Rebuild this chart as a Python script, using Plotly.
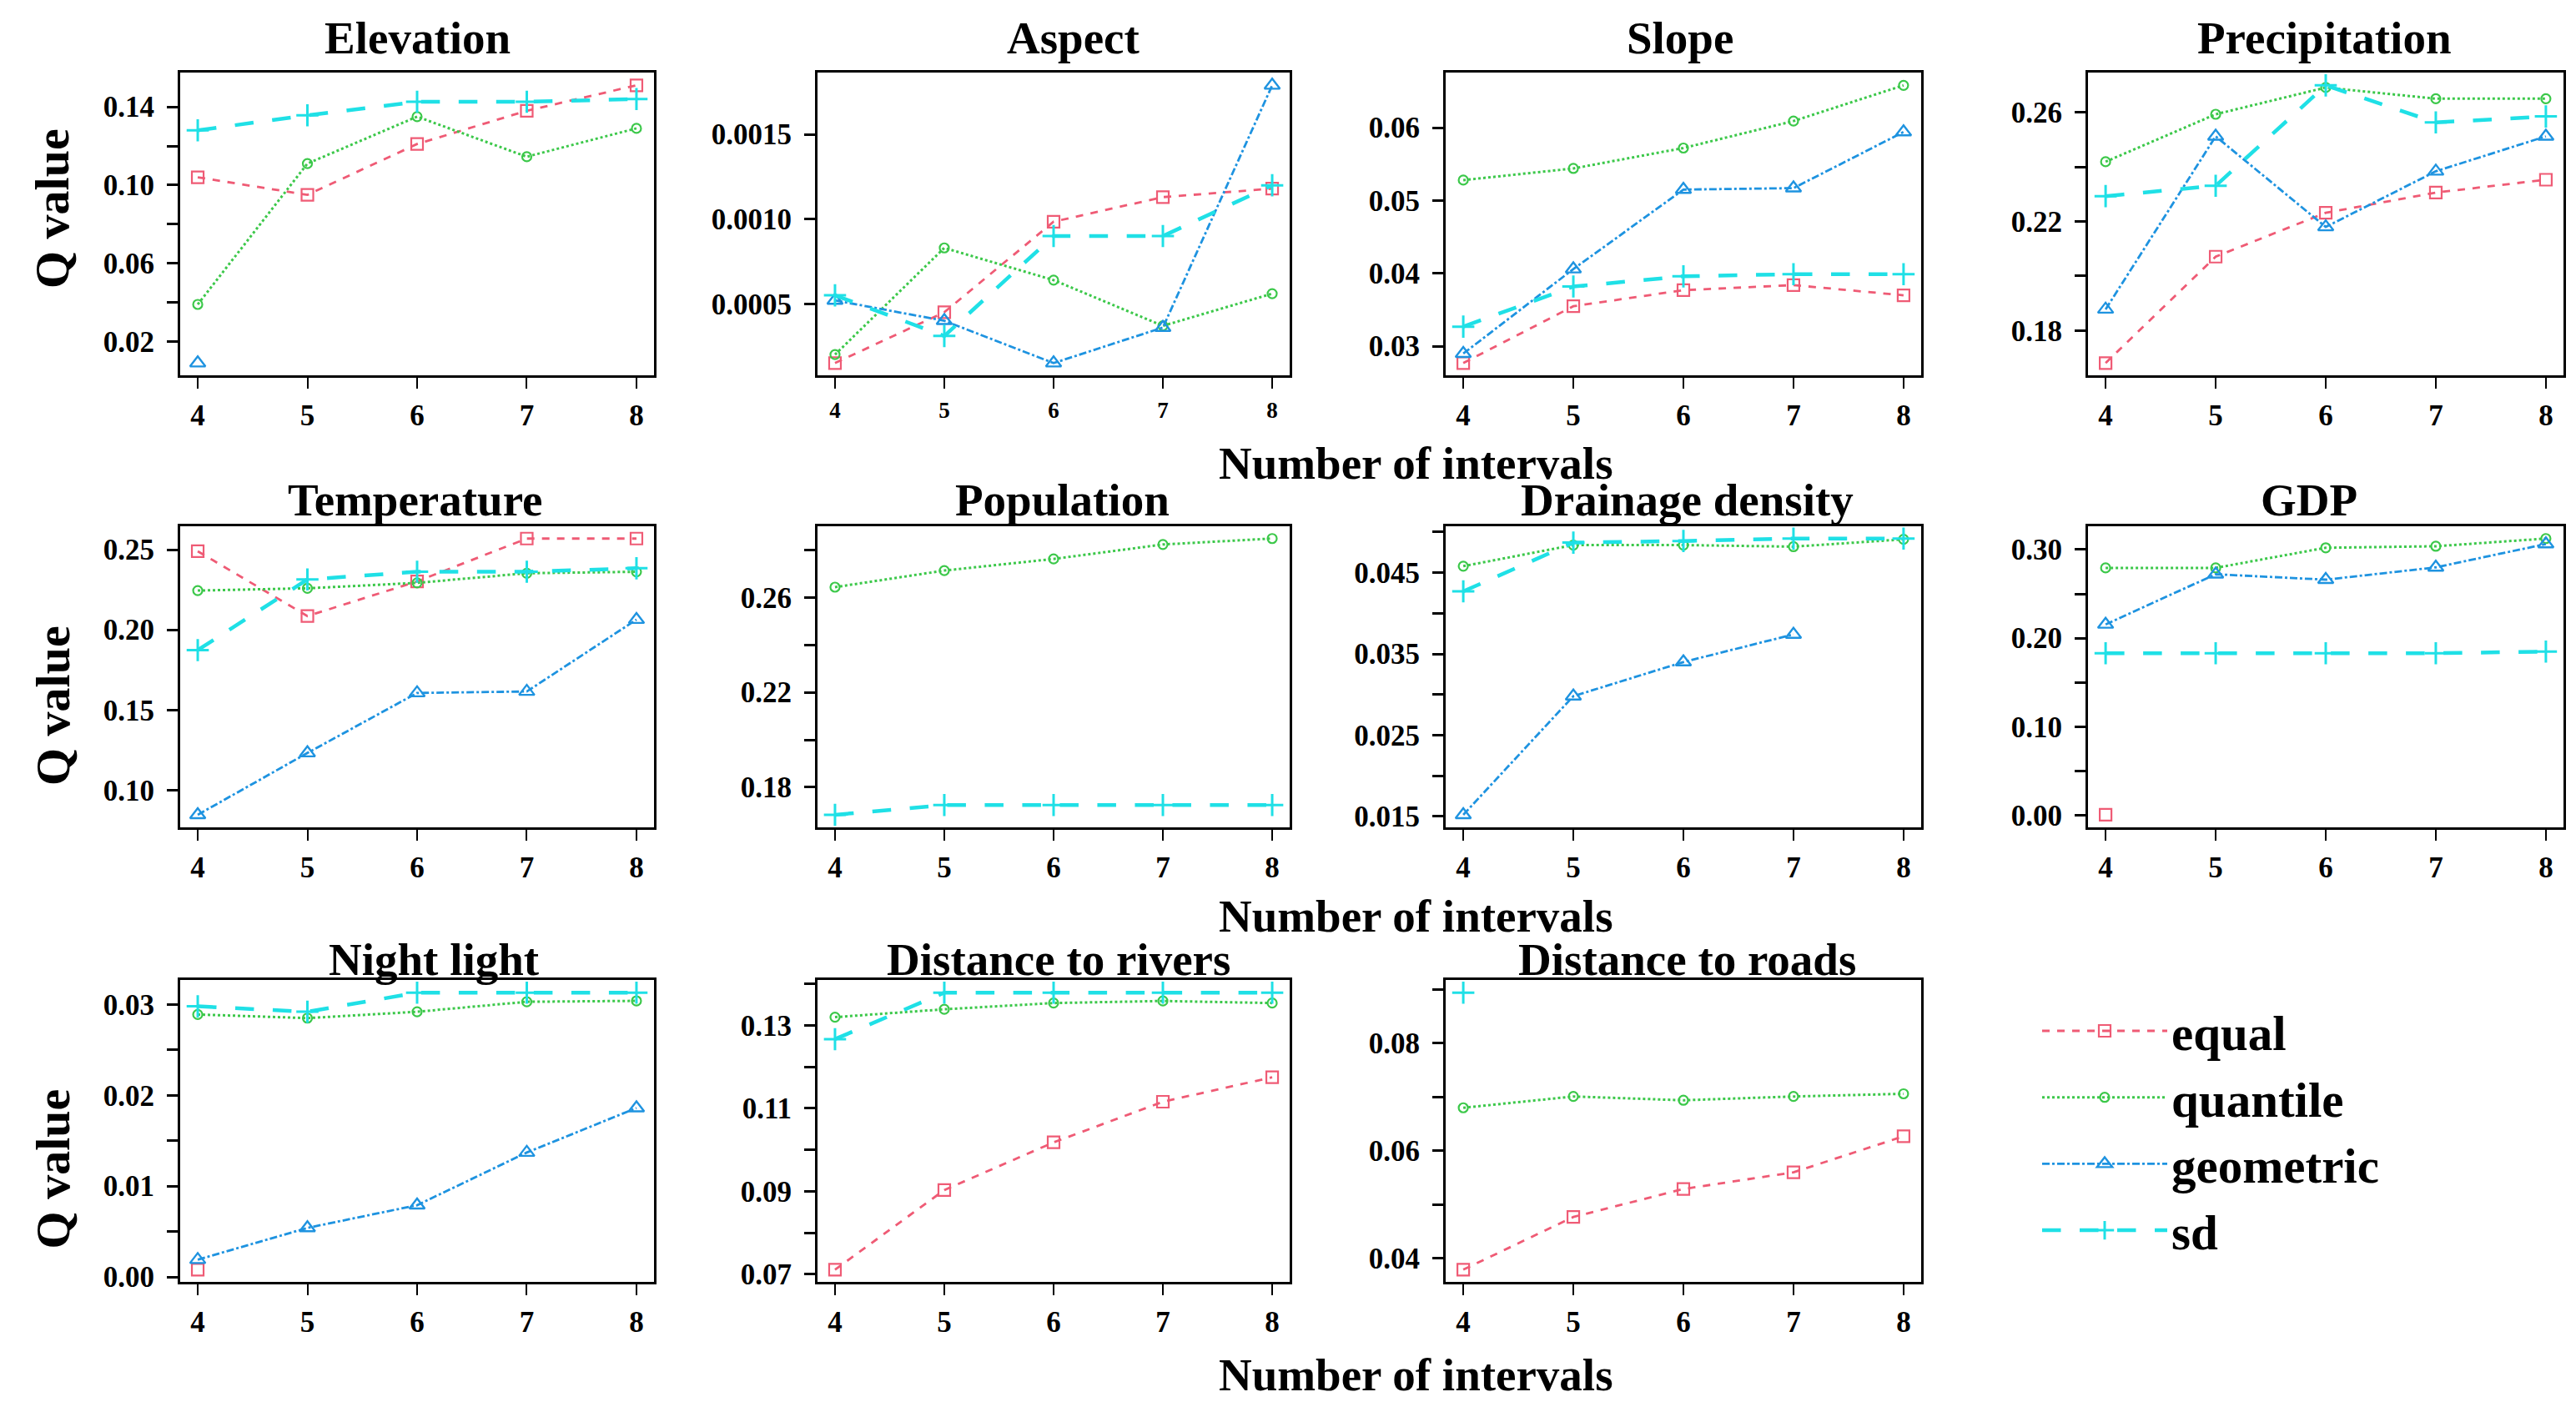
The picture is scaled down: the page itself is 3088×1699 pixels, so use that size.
import plotly.graph_objects as go

intervals = [4, 5, 6, 7, 8]
methods = ["equal", "quantile", "geometric", "sd"]
N = None

# ---- data (Q values) ----
elevation_equal = [0.104, 0.095, 0.121, 0.138, 0.151]
elevation_quantile = [0.039, 0.111, 0.135, 0.1145, 0.129]
elevation_geometric = [0.009, N, N, N, N]
elevation_sd = [0.128, 0.1357, 0.1426, 0.1426, 0.144]

aspect_equal = [0.00015, 0.00045, 0.000985, 0.00113, 0.00118]
aspect_quantile = [0.0002, 0.00083, 0.00064, 0.00037, 0.00056]
aspect_geometric = [0.00052, 0.0004, 0.00015, 0.00036, 0.00179]
aspect_sd = [0.00055, 0.00031, 0.0009, 0.0009, 0.0012]

slope_equal = [0.0277, 0.0355, 0.0377, 0.0384, 0.037]
slope_quantile = [0.0528, 0.0544, 0.0572, 0.0609, 0.0658]
slope_geometric = [0.029, 0.0406, 0.0515, 0.0517, 0.0594]
slope_sd = [0.0327, 0.0382, 0.0396, 0.0399, 0.0399]

precip_equal = [0.1681, 0.2071, 0.2232, 0.2306, 0.2353]
precip_quantile = [0.2419, 0.2593, 0.2691, 0.265, 0.265]
precip_geometric = [0.1878, 0.2512, 0.218, 0.2384, 0.2512]
precip_sd = [0.2293, 0.2331, 0.2699, 0.2563, 0.2585]

temp_equal = [0.249, 0.2086, 0.2302, 0.2569, 0.2569]
temp_quantile = [0.2245, 0.2259, 0.2293, 0.2353, 0.2362]
temp_geometric = [0.0848, 0.1233, 0.1607, 0.1616, 0.2064]
temp_sd = [0.1874, 0.2314, 0.2362, 0.2362, 0.2384]

pop_equal = [N, N, N, N, N]
pop_quantile = [0.2644, 0.2714, 0.2763, 0.2824, 0.2849]
pop_geometric = [N, N, N, N, N]
pop_sd = [0.1684, 0.1725, 0.1725, 0.1725, 0.1725]

drain_equal = [N, N, N, N, N]
drain_quantile = [0.0458, 0.0484, 0.0484, 0.0482, 0.0491]
drain_geometric = [0.0152, 0.0298, 0.034, 0.0374, N]
drain_sd = [0.0427, 0.0487, 0.0489, 0.0492, 0.0492]

gdp_equal = [0.0006, N, N, N, N]
gdp_quantile = [0.2793, 0.2793, 0.302, 0.3037, 0.3124]
gdp_geometric = [0.2155, 0.2721, 0.266, 0.2799, 0.3062]
gdp_sd = [0.183, 0.183, 0.183, 0.183, 0.1848]

night_equal = [0.0008, N, N, N, N]
night_quantile = [0.0289, 0.0285, 0.0292, 0.0303, 0.0304]
night_geometric = [0.0019, 0.0054, 0.0079, 0.0137, 0.0186]
night_sd = [0.0298, 0.0292, 0.0313, 0.0313, 0.0313]

rivers_equal = [0.0711, 0.0903, 0.1018, 0.1116, 0.1175]
rivers_quantile = [0.132, 0.1339, 0.1354, 0.1359, 0.1354]
rivers_geometric = [N, N, N, N, N]
rivers_sd = [0.1267, 0.1379, 0.1379, 0.1379, 0.1379]

roads_equal = [0.0379, 0.0477, 0.0529, 0.056, 0.0627]
roads_quantile = [0.068, 0.0701, 0.0694, 0.0701, 0.0706]
roads_geometric = [N, N, N, N, N]
roads_sd = [0.0894, N, N, N, N]

# ---- tick values / labels ----
elevation_ticks = [0.02, 0.04, 0.06, 0.08, 0.10, 0.12, 0.14]
elevation_labels = ["0.02", "", "0.06", "", "0.10", "", "0.14"]
aspect_ticks = [0.0005, 0.0010, 0.0015]
aspect_labels = ["0.0005", "0.0010", "0.0015"]
slope_ticks = [0.03, 0.04, 0.05, 0.06]
slope_labels = ["0.03", "0.04", "0.05", "0.06"]
precip_ticks = [0.18, 0.20, 0.22, 0.24, 0.26]
precip_labels = ["0.18", "", "0.22", "", "0.26"]
temp_ticks = [0.10, 0.15, 0.20, 0.25]
temp_labels = ["0.10", "0.15", "0.20", "0.25"]
pop_ticks = [0.18, 0.20, 0.22, 0.24, 0.26, 0.28]
pop_labels = ["0.18", "", "0.22", "", "0.26", ""]
drain_ticks = [0.015, 0.020, 0.025, 0.030, 0.035, 0.040, 0.045, 0.050]
drain_labels = ["0.015", "", "0.025", "", "0.035", "", "0.045", ""]
gdp_ticks = [0.00, 0.05, 0.10, 0.15, 0.20, 0.25, 0.30]
gdp_labels = ["0.00", "", "0.10", "", "0.20", "", "0.30"]
night_ticks = [0.0, 0.005, 0.01, 0.015, 0.02, 0.025, 0.03]
night_labels = ["0.00", "", "0.01", "", "0.02", "", "0.03"]
rivers_ticks = [0.07, 0.08, 0.09, 0.10, 0.11, 0.12, 0.13, 0.14]
rivers_labels = ["0.07", "", "0.09", "", "0.11", "", "0.13", ""]
roads_ticks = [0.04, 0.05, 0.06, 0.07, 0.08, 0.09]
roads_labels = ["0.04", "", "0.06", "", "0.08", ""]

titles = ["Elevation", "Aspect", "Slope", "Precipitation",
          "Temperature", "Population", "Drainage density", "GDP",
          "Night light", "Distance to rivers", "Distance to roads"]

panels = [
    (elevation_equal, elevation_quantile, elevation_geometric, elevation_sd, elevation_ticks, elevation_labels),
    (aspect_equal, aspect_quantile, aspect_geometric, aspect_sd, aspect_ticks, aspect_labels),
    (slope_equal, slope_quantile, slope_geometric, slope_sd, slope_ticks, slope_labels),
    (precip_equal, precip_quantile, precip_geometric, precip_sd, precip_ticks, precip_labels),
    (temp_equal, temp_quantile, temp_geometric, temp_sd, temp_ticks, temp_labels),
    (pop_equal, pop_quantile, pop_geometric, pop_sd, pop_ticks, pop_labels),
    (drain_equal, drain_quantile, drain_geometric, drain_sd, drain_ticks, drain_labels),
    (gdp_equal, gdp_quantile, gdp_geometric, gdp_sd, gdp_ticks, gdp_labels),
    (night_equal, night_quantile, night_geometric, night_sd, night_ticks, night_labels),
    (rivers_equal, rivers_quantile, rivers_geometric, rivers_sd, rivers_ticks, rivers_labels),
    (roads_equal, roads_quantile, roads_geometric, roads_sd, roads_ticks, roads_labels),
]

# ---- styles ----
W, H = 3088, 1699
FONT = "Liberation Serif"
styles = {
    "equal": dict(color="#EF5B75", dash="dash", width=2.8, symbol="square-open", size=14, mlw=2.2),
    "quantile": dict(color="#3CC84A", dash="dot", width=3, symbol="circle-open", size=11, mlw=2.2),
    "geometric": dict(color="#1E93E0", dash="dashdot", width=2.8, symbol="triangle-up-open", size=16, mlw=2.4),
    "sd": dict(color="#1FE0E6", dash="longdash", width=4.5, symbol="cross-thin-open", size=19, mlw=3),
}

col_px = [(208, 776), (972, 1538), (1725, 2295), (2495, 3065)]
row_px = [(80, 446), (628, 992), (1177, 1542)]
title_y = [38, 596, 1152]
title_dx = [0, 24, -4, -2, -2, 10, 4, -20, 20, 6, 4]

fig = go.Figure()
layout = dict(
    width=W, height=H, margin=dict(l=0, r=0, t=0, b=0),
    paper_bgcolor="white", plot_bgcolor="white",
    font=dict(family=FONT, color="black"),
    showlegend=True,
)
annotations = []

for i, (eq, qu, ge, sd, tv, tt) in enumerate(panels):
    r, c = divmod(i, 4)
    k = i + 1
    xa = "x" if k == 1 else f"x{k}"
    ya = "y" if k == 1 else f"y{k}"
    for m, vals in zip(methods, (eq, qu, ge, sd)):
        s = styles[m]
        fig.add_trace(go.Scatter(
            x=intervals, y=vals, mode="lines+markers", name=m,
            legendgroup=m, showlegend=(i == 0),
            line=dict(color=s["color"], dash=s["dash"], width=s["width"]),
            marker=dict(symbol=s["symbol"], size=s["size"], color=s["color"],
                        line=dict(color=s["color"], width=s["mlw"])),
            connectgaps=False, xaxis=xa, yaxis=ya,
        ))
    allv = [v for arr in (eq, qu, ge, sd) for v in arr if v is not None]
    lo, hi = min(allv), max(allv)
    pad = (hi - lo) * 0.045
    x0, x1 = col_px[c]
    y0, y1 = row_px[r]
    xkey = "xaxis" if k == 1 else f"xaxis{k}"
    ykey = "yaxis" if k == 1 else f"yaxis{k}"
    xsize = 27 if i == 1 else 35
    layout[xkey] = dict(
        domain=[x0 / W, x1 / W], anchor=ya, range=[3.84, 8.16],
        tickvals=intervals, ticktext=[str(v) for v in intervals],
        ticks="outside", ticklen=13, tickwidth=2, tickcolor="black",
        showgrid=False, zeroline=False, showline=True, mirror=True,
        linewidth=3, linecolor="black", ticklabelstandoff=2,
        tickfont=dict(family=FONT, size=xsize, weight="bold"),
    )
    layout[ykey] = dict(
        domain=[1 - y1 / H, 1 - y0 / H], anchor=xa, range=[lo - pad, hi + pad],
        tickvals=tv, ticktext=tt,
        ticks="outside", ticklen=13, tickwidth=3, tickcolor="black",
        showgrid=False, zeroline=False, showline=True, mirror=True,
        linewidth=3, linecolor="black", ticklabelstandoff=8,
        tickfont=dict(family=FONT, size=35, weight="bold"),
    )
    tx = (x0 + x1) / 2 + title_dx[i]
    annotations.append(dict(
        text=titles[i], x=tx / W, y=1 - title_y[r] / H, xref="paper", yref="paper",
        xanchor="center", yanchor="middle", showarrow=False,
        font=dict(family=FONT, size=55, weight="bold"),
    ))

for yy in (552, 1100, 1654):
    annotations.append(dict(
        text="Number of intervals", x=1690 / W, y=1 - yy / H, xref="paper", yref="paper",
        xanchor="center", yanchor="middle", showarrow=False,
        font=dict(family=FONT, size=55, weight="bold"),
    ))
for yy in (244, 845, 1405):
    annotations.append(dict(
        text="Q value", x=55 / W, y=1 - yy / H, xref="paper", yref="paper",
        xanchor="center", yanchor="middle", showarrow=False, textangle=-90,
        font=dict(family=FONT, size=58, weight="bold"),
    ))

layout["annotations"] = annotations
layout["legend"] = dict(
    x=2435 / W, y=1 - 1193 / H, xanchor="left", yanchor="top",
    font=dict(family=FONT, size=59, weight="bold"),
    itemwidth=150, bgcolor="rgba(0,0,0,0)", tracegroupgap=0,
    itemsizing="trace",
)
fig.update_layout(**layout)
fig.write_html("out.html")
